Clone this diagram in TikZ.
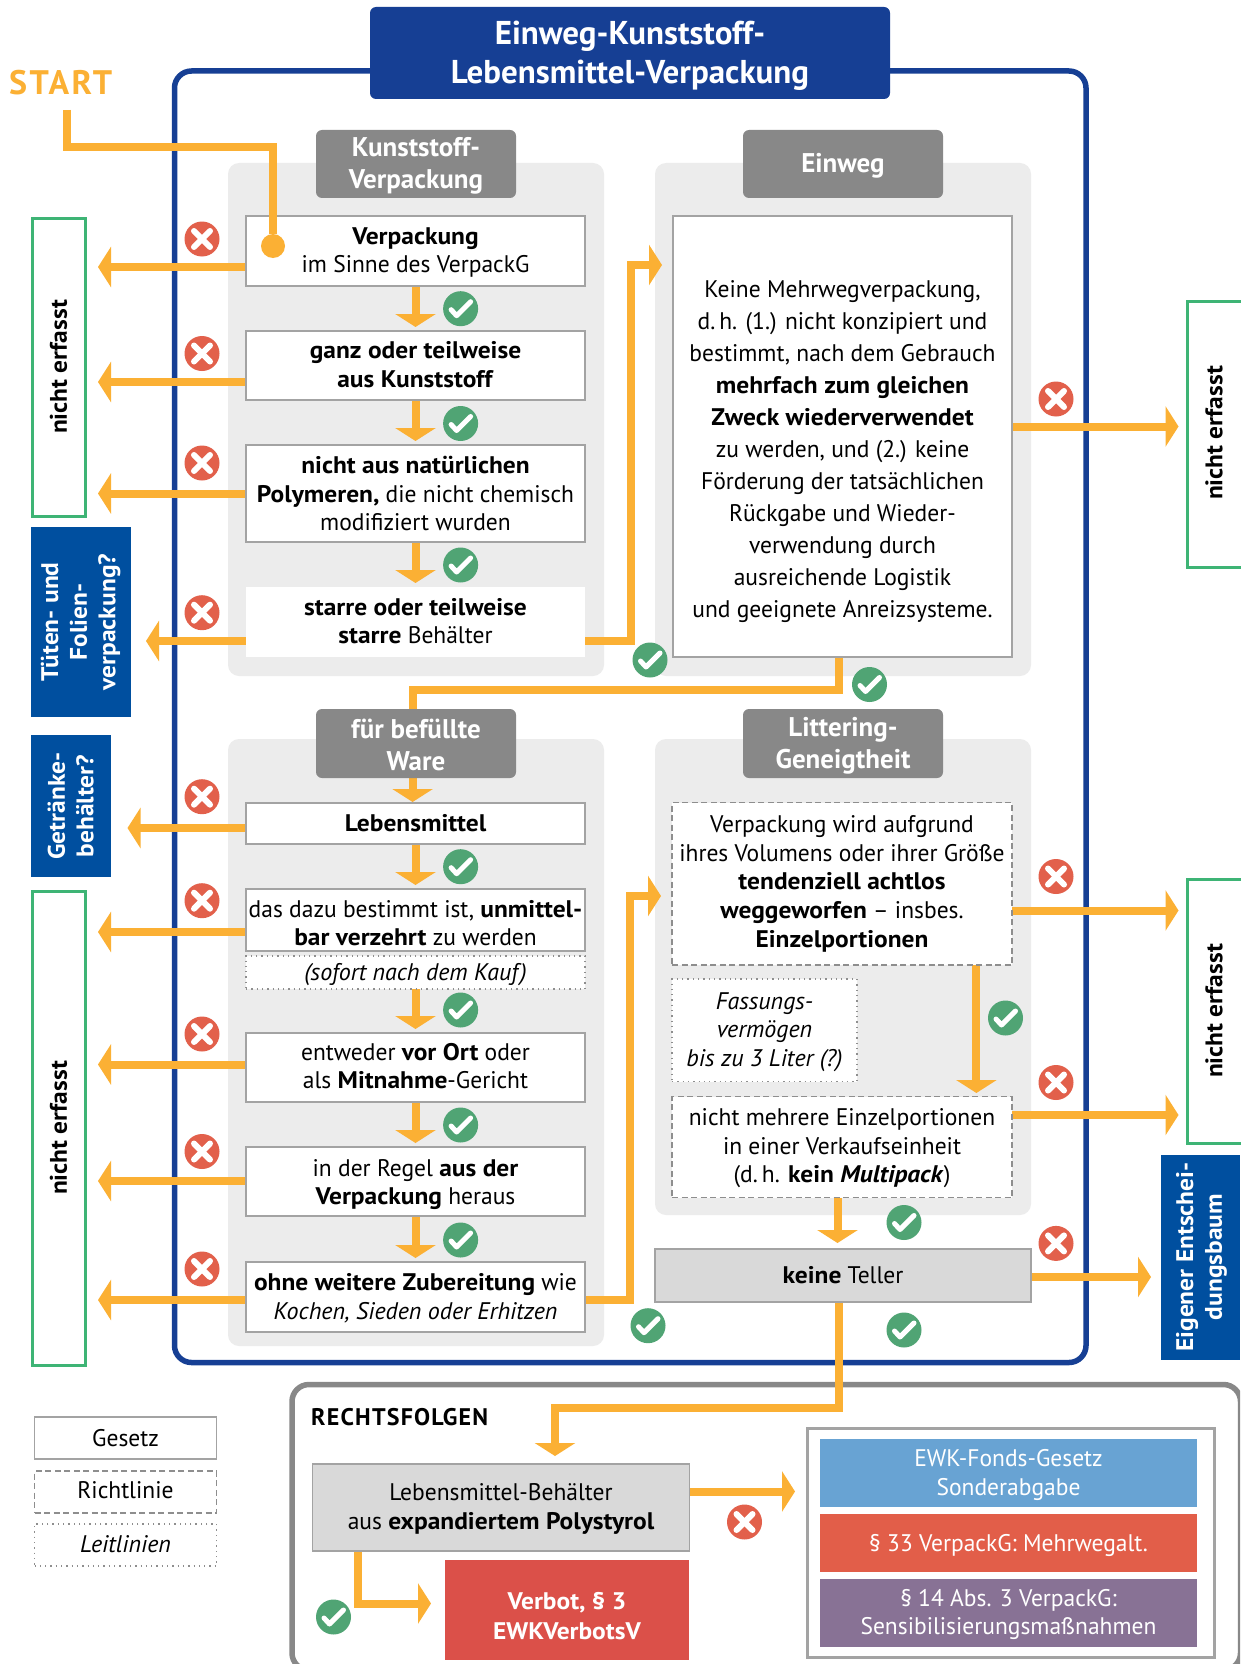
\documentclass[tikz,border=0pt]{standalone}
\usepackage{fontspec}
\setmainfont{PT Sans}[FakeStretch=0.98,BoldFeatures={FakeStretch=1.06},BoldItalicFeatures={FakeStretch=1.06},ItalicFeatures={FakeStretch=1.0}]
\newfontfamily\hdfont{PT Sans}
\usetikzlibrary{arrows.meta,backgrounds,calc}
\definecolor{navy}{HTML}{163F94}
\definecolor{orangec}{HTML}{FBB034}
\definecolor{panelc}{HTML}{ECECEC}
\definecolor{headc}{HTML}{888888}
\definecolor{strokec}{HTML}{A3A3A3}
\definecolor{linec}{HTML}{8E8E8E}
\definecolor{teller}{HTML}{D9D9D9}
\definecolor{greenb}{HTML}{3EB475}
\definecolor{blueb}{HTML}{004F9F}
\definecolor{okc}{HTML}{50A474}
\definecolor{noc}{HTML}{E2604B}
\definecolor{verbot}{HTML}{DB5049}
\definecolor{fonds}{HTML}{68A3D3}
\definecolor{mehrw}{HTML}{E25E49}
\definecolor{sensi}{HTML}{887295}
\newcommand{\boxfont}{\fontsize{24}{28.6}\selectfont}
\newcommand{\tdn}[1]{\rule{0pt}{\dimexpr 18pt+2\dimexpr #1pt\relax\relax}}
\newcommand{\tup}[1]{\rule[\dimexpr -2\dimexpr #1pt\relax\relax]{0pt}{0pt}}
\tikzset{
  base/.style={inner sep=0pt,outer sep=0pt,anchor=north west,align=center,font=\boxfont},
  lawbox/.style={base,draw=strokec,line width=1.6pt,fill=white},
  plainbox/.style={base,fill=white},
  guidebox/.style={base,draw=linec,line width=1.2pt,fill=white,dash pattern=on 6pt off 3.5pt},
  dotbox/.style={base,draw=linec,line width=1.3pt,fill=white,dash pattern=on 1.3pt off 4pt},
  greybox/.style={base,draw=strokec,line width=1.6pt,fill=teller},
  headbox/.style={base,fill=headc,rounded corners=6pt,text=white,font=\fontsize{27}{32}\selectfont\hdfont\bfseries},
  titlebox/.style={base,fill=navy,rounded corners=6pt,text=white,font=\fontsize{33}{39}\selectfont\hdfont\bfseries},
  outbox/.style={base,draw=greenb,line width=3pt,fill=white,font=\boxfont\bfseries},
  bluebox/.style={base,fill=blueb,text=white,font=\boxfont\bfseries},
  colbox/.style={base,text=white},
  panel/.style={fill=panelc,rounded corners=11pt},
  arrowline/.style={draw=orangec,line width=8pt,-{Triangle[length=13pt,width=40pt]}},
  plainline/.style={draw=orangec,line width=8pt},
  okmark/.style={circle,fill=okc,minimum size=35pt,inner sep=0pt,path picture={
    \draw[white,line width=5pt,line cap=round,line join=round] ($(path picture bounding box.center)+(-9.5,1)$) -- ++(5.5,6) -- ++(14,-14);}},
  nomark/.style={circle,fill=noc,minimum size=35pt,inner sep=0pt,path picture={
    \draw[white,line width=6pt,line cap=round] ($(path picture bounding box.center)+(-8,-8)$) -- ++(16,16);
    \draw[white,line width=6pt,line cap=round] ($(path picture bounding box.center)+(-8,8)$) -- ++(16,-16);}}
}
\begin{document}
\begin{tikzpicture}[x=1pt,y=-1pt]
\path[use as bounding box] (0,0) rectangle (1240,1664);

% title and headers
\node[titlebox,minimum width=520pt,minimum height=92pt] (title) at (370,7) {\rule{0pt}{28pt}Einweg-Kunststoff-\\Lebensmittel-Verpackung};
\node[font=\fontsize{34}{39}\selectfont\hdfont\bfseries,text=orangec,inner sep=0pt,anchor=base west,align=left] (start) at (9,95) {\addfontfeature{LetterSpace=7}START};
\node[headbox,minimum width=200pt,minimum height=68pt] (h1) at (316,130) {\rule{0pt}{22pt}Kunststoff-\\Verpackung};
\node[headbox,minimum width=200pt,minimum height=68pt] (h2) at (743,130) {\rule{0pt}{22pt}Einweg};
\node[headbox,minimum width=200pt,minimum height=69pt] (h3) at (316,709) {\rule{0pt}{22pt}für befüllte\\Ware};
\node[headbox,minimum width=200pt,minimum height=69pt] (h4) at (743,709) {\rule{0pt}{24pt}Littering-\\Geneigtheit};

% column 1
\node[lawbox,minimum width=339pt,minimum height=70pt] (b1) at (246,216) {\tdn{1}\textbf{Verpackung}\\im Sinne des VerpackG};
\node[lawbox,minimum width=339pt,minimum height=69pt] (b2) at (246,331) {\textbf{ganz oder teilweise}\\\textbf{aus Kunststoff}\tup{1}};
\node[lawbox,minimum width=339pt,minimum height=97pt] (b3) at (246,445) {\textbf{nicht aus natürlichen}\\\textbf{Polymeren,} die nicht chemisch\\modifiziert wurden};
\node[plainbox,minimum width=339pt,minimum height=70pt] (b4) at (246,587) {\textbf{starre oder teilweise}\\\textbf{starre} Behälter\tup{1}};

% column 2
\node[lawbox,minimum width=339pt,minimum height=441pt,font=\fontsize{24}{32}\selectfont] (e1) at (673,216) {\tdn{15}Keine Mehrwegverpackung,\\d.\,h. (1.) nicht konzipiert und\\bestimmt, nach dem Gebrauch\\\textbf{mehrfach zum gleichen}\\\textbf{Zweck wiederverwendet}\\zu werden, und (2.) keine\\Förderung der tatsächlichen\\Rückgabe und Wieder-\\verwendung durch\\ausreichende Logistik\\und geeignete Anreizsysteme.};

% column 3
\node[lawbox,minimum width=339pt,minimum height=41pt] (c1) at (246,803) {\textbf{Lebensmittel}};
\node[lawbox,minimum width=339pt,minimum height=62pt] (c2) at (246,889) {\tdn{2.5}das dazu bestimmt ist, \textbf{unmittel-}\\\textbf{bar verzehrt} zu werden};
\node[dotbox,minimum width=339pt,minimum height=33pt] (c2b) at (246,956) {\tdn{2}\textit{(sofort nach dem Kauf)}};
\node[lawbox,minimum width=339pt,minimum height=69pt] (c3) at (246,1033) {entweder \textbf{vor Ort} oder\\als \textbf{Mitnahme}-Gericht\tup{1.5}};
\node[lawbox,minimum width=339pt,minimum height=69pt] (c4) at (246,1147) {\tdn{2.5}in der Regel \textbf{aus der}\\\textbf{Verpackung} heraus};
\node[lawbox,minimum width=339pt,minimum height=70pt] (c5) at (246,1262) {\tdn{1}\textbf{ohne weitere Zubereitung} wie\\\textit{Kochen, Sieden oder Erhitzen}};

% column 4
\node[guidebox,minimum width=340pt,minimum height=162.5pt] (d1) at (672,802.5) {Verpackung wird aufgrund\\ihres Volumens oder ihrer Größe\\\textbf{tendenziell achtlos}\\\textbf{weggeworfen} -- insbes.\\\textbf{Einzelportionen}};
\node[dotbox,minimum width=185pt,minimum height=102.5pt] (d2) at (672,979) {\tdn{1}\textit{Fassungs-}\\\textit{vermögen}\\\textit{bis zu 3 Liter (?)}};
\node[guidebox,minimum width=340pt,minimum height=101pt] (d3) at (672,1096.5) {\tdn{1}nicht mehrere Einzelportionen\\in einer Verkaufseinheit\\(d.\,h. \textbf{kein \textit{Multipack}})};
\node[greybox,minimum width=376pt,minimum height=53pt] (d4) at (655,1249) {\textbf{keine} Teller\tup{1}};

% outcome boxes left
\node[outbox,minimum width=53pt,minimum height=298pt] (n1) at (32,218) {};
\node[rotate=90,font=\boxfont\bfseries,inner sep=0pt] (n1t) at (58.5,367) {nicht erfasst};
\node[bluebox,minimum width=99.5pt,minimum height=190pt] (n2) at (31,527) {};
\node[rotate=90,font=\boxfont\bfseries,text=white,align=center,inner sep=0pt] (n2t) at (80.7,622) {Tüten- und\\Folien-\\verpackung?};
\node[bluebox,minimum width=79.5pt,minimum height=142pt] (n3) at (31,735) {};
\node[rotate=90,font=\boxfont\bfseries,text=white,align=center,inner sep=0pt] (n3t) at (70.7,806) {Getränke-\\behälter?};
\node[outbox,minimum width=53pt,minimum height=474pt] (n4) at (32,891) {};
\node[rotate=90,font=\boxfont\bfseries,inner sep=0pt] (n4t) at (58.5,1128) {nicht erfasst};

% outcome boxes right
\node[outbox,minimum width=56pt,minimum height=266pt] (r1) at (1187,301) {};
\node[rotate=90,font=\boxfont\bfseries,inner sep=0pt] (r1t) at (1214,433) {nicht erfasst};
\node[outbox,minimum width=56pt,minimum height=264pt] (r2) at (1187,879) {};
\node[rotate=90,font=\boxfont\bfseries,inner sep=0pt] (r2t) at (1214,1011) {nicht erfasst};
\node[bluebox,minimum width=79pt,minimum height=205pt] (r3) at (1161,1155) {};
\node[rotate=90,font=\boxfont\bfseries,text=white,align=center,inner sep=0pt] (r3t) at (1201.5,1257) {Eigener Entschei-\\dungsbaum};

% legend
\node[lawbox,minimum width=182pt,minimum height=42pt] (lg1) at (34.5,1417) {Gesetz};
\node[guidebox,minimum width=182pt,minimum height=42pt] (lg2) at (34.5,1471) {Richtlinie\tup{2}};
\node[dotbox,minimum width=182pt,minimum height=42pt] (lg3) at (34.5,1524) {\textit{Leitlinien}\tup{1}};

% legal consequences
\node[inner sep=0pt,anchor=base west,font=\fontsize{24}{26}\selectfont\hdfont\bfseries] (rf) at (311,1425) {\addfontfeature{LetterSpace=5}RECHTSFOLGEN};
\node[greybox,minimum width=377pt,minimum height=87pt] (g1) at (312.5,1464) {\tdn{0.7}Lebensmittel-Behälter\\aus \textbf{expandiertem Polystyrol}};
\node[base,fill=verbot,text=white,font=\fontsize{24}{30}\selectfont\bfseries,minimum width=244pt,minimum height=100pt] (vb) at (445,1560) {\tdn{5.5}Verbot, § 3\\EWKVerbotsV};
\node[base,draw=strokec,line width=3pt,fill=white,minimum width=407pt,minimum height=229pt] (og) at (807,1428) {};
\node[colbox,fill=fonds,minimum width=377pt,minimum height=68pt] (f1) at (820,1439) {\tdn{1.5}EWK-Fonds-Gesetz\\Sonderabgabe};
\node[colbox,fill=mehrw,minimum width=377pt,minimum height=58pt] (f2) at (820,1514) {\tdn{2.5}§ 33 VerpackG: Mehrwegalt.};
\node[colbox,fill=sensi,minimum width=377pt,minimum height=68pt] (f3) at (820,1579) {\tdn{1}§ 14 Abs. 3 VerpackG:\\Sensibilisierungsmaßnahmen};

% free ends of connectors
\coordinate (sa) at (67,110);
\coordinate (tb1) at (98,267);
\coordinate (tb2) at (98,382);
\coordinate (tb3) at (98,493.5);
\coordinate (tb4) at (146,641);
\coordinate (tc1) at (127.5,828);
\coordinate (tc2) at (98,932);
\coordinate (tc3) at (98,1064.5);
\coordinate (tc4) at (98,1181);
\coordinate (tc5) at (98,1300);
\coordinate (te1) at (1178.5,426.5);
\coordinate (td1) at (1178.5,910.5);
\coordinate (td3) at (1178.5,1115);
\coordinate (td4) at (1151,1277);
\coordinate (te) at (662,265);
\coordinate (tl) at (661,896);
\coordinate (tg1) at (795,1491.5);
\coordinate (tvb) at (431,1603.5);
\coordinate (tin) at (555,1456);
\coordinate (tc1in) at (412.6,802);

% start connector, above the boxes
\node[circle,fill=orangec,minimum size=24pt,inner sep=0pt] (dot) at (273,246) {};
\draw[plainline] (sa) -- ++(0,37) -| (dot);

% marks
\foreach \n/\x/\y in {o1/460.6/308.7,o2/460.6/423.5,o3/460.6/565,o4/650/660,o5/869.5/684.5,o6/460.6/866.7,o7/460.6/1010,o8/460.6/1125,o9/460.6/1240,o10/648/1325.7,o11/1005.5/1018,o12/904/1222.5,o13/904/1330,o14/333.5/1617}
  \node[okmark] (\n) at (\x,\y) {};
\foreach \n/\x/\y in {x1/202/239,x2/202/353.5,x3/202/463,x4/202/612.7,x5/202/796.7,x6/202/900.7,x7/202/1034,x8/202/1151.5,x9/202/1269,x10/1056/399,x11/1056/876.5,x12/1056/1082.5,x13/1056/1243.4,x14/744.5/1522}
  \node[nomark] (\n) at (\x,\y) {};

\begin{scope}[on background layer]
  \fill[white] (0,0) rectangle (1240,1664);
  % frames and panels
  \draw[navy,line width=5.5pt,rounded corners=17pt] (174.5,71) rectangle (1086,1362.5);
  \begin{scope}
    \clip (0,0) rectangle (1240,1664);
    \draw[headc,line width=5.5pt,rounded corners=17pt] (292,1384.5) rectangle (1240.5,1670);
  \end{scope}
  \fill[panel] (228,163) rectangle (604,676);
  \fill[panel] (655,163) rectangle (1031,676);
  \fill[panel] (228,739) rectangle (604,1346);
  \fill[panel] (655,739) rectangle (1031,1215);
  % down connectors
  \draw[arrowline,shorten >=4pt] (b1) -- (b2);
  \draw[arrowline,shorten >=4pt] (b2) -- (b3);
  \draw[arrowline,shorten >=4pt] (b3) -- (b4);
  \draw[arrowline,shorten >=4pt] (c1) -- (c2);
  \draw[arrowline,shorten >=4pt] (c2b) -- (c3);
  \draw[arrowline,shorten >=4pt] (c3) -- (c4);
  \draw[arrowline,shorten >=4pt] (c4) -- (c5);
  % to the left
  \draw[arrowline] (b1.west |- tb1) -- (tb1);
  \draw[arrowline] (b2.west |- tb2) -- (tb2);
  \draw[arrowline] (b3.west |- tb3) -- (tb3);
  \draw[arrowline] (b4.west |- tb4) -- (tb4);
  \draw[arrowline] (c1.west |- tc1) -- (tc1);
  \draw[arrowline] (c2.west |- tc2) -- (tc2);
  \draw[arrowline] (c3.west |- tc3) -- (tc3);
  \draw[arrowline] (c4.west |- tc4) -- (tc4);
  \draw[arrowline] (c5.west |- tc5) -- (tc5);
  % to the right
  \draw[arrowline] (e1.east |- te1) -- (te1);
  \draw[arrowline] (d1.east |- td1) -- (td1);
  \draw[arrowline] (d3.east |- td3) -- (td3);
  \draw[arrowline] (d4.east |- td4) -- (td4);
  % routed
  \draw[arrowline] (b4.east |- tb4) -| (630.8,265) -- (te);
  \draw[arrowline] (c5.east |- tc5) -| (630,896) -- (tl);
  \draw[arrowline] (e1.south -| 838.5,0) -- (838.5,690) -| (tc1in);
  \draw[arrowline] (d1.south -| 976.4,0) -- (976.4,1093);
  \draw[arrowline] (d3.south -| 837.5,0) -- (837.5,1243);
  \draw[arrowline] (d4.south -| 838.6,0) -- (838.6,1408) -| (tin);
  \draw[arrowline] (g1.east |- tg1) -- (tg1);
  \draw[arrowline] (g1.south -| 358,0) |- (tvb);
\end{scope}
\end{tikzpicture}
\end{document}
